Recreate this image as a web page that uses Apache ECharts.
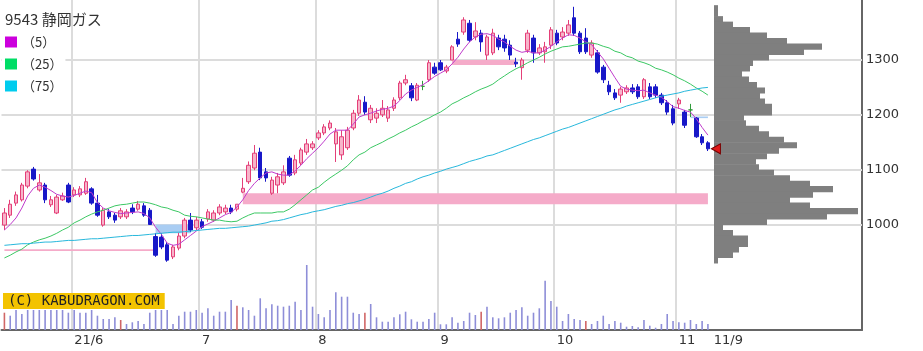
<!DOCTYPE html>
<html><head><meta charset="utf-8">
<script src="https://cdn.jsdelivr.net/npm/echarts@6/dist/echarts.min.js"></script>
<style>html,body{margin:0;padding:0;background:#fff}#c{width:923px;height:351px}</style>
</head><body><div id="c"></div><script>
// ---- trading days (2021) ----
const mayDays = [14,17,18,19,20,21,24,25,26,27,28,31];
const junDays = [1,2,3,4,7,8,9,10,11,14,15,16,17,18,21,22,23,24,25,28,29,30];
const julDays = [1,2,5,6,7,8,9,12,13,14,15,16,19,20,21,26,27,28,29,30];
const augDays = [2,3,4,5,6,10,11,12,13,16,17,18,19,20,23,24,25,26,27,30,31];
const sepDays = [1,2,3,6,7,8,9,10,13,14,15,16,17,21,22,24,27,28,29,30];
const octDays = [1,4,5,6,7,8,11,12,13,14,15,18,19,20,21,22,25,26,27,28,29];
const novDays = [1,2,4,5,8,9];
const tickText = ['21/6','7','8','9','10','11','11/9'];

const opens = [999,1017,1039,1045,1070,1101,1063,1072,1036,1021,
1045,1072,1054,1054,1057,1065,1039,999,1023,1017,
1014,1014,1030,1028,1034,1026,978,977,963,941,
957,979,1008,994,1005,1010,1008,1021,1023,1030,
1028,1059,1078,1103,1132,1096,1057,1072,1076,1121,
1094,1112,1132,1140,1158,1167,1176,1147,1127,1140,
1176,1203,1223,1191,1194,1200,1194,1212,1231,1258,
1253,1227,1252,1264,1287,1295,1280,1300,1338,1351,
1367,1342,1349,1309,1313,1340,1338,1327,1296,1286,
1318,1340,1313,1315,1327,1349,1342,1349,1377,1349,
1340,1309,1313,1287,1254,1240,1236,1242,1249,1251,
1233,1251,1251,1236,1222,1211,1220,1205,1209,1194,
1160,1149];
const closes = [1021,1037,1054,1072,1096,1083,1076,1045,1045,1050,
1052,1041,1063,1065,1078,1039,1017,1026,1014,1008,
1025,1023,1023,1037,1017,1000,944,959,935,959,
979,1008,990,1008,995,1023,1021,1032,1030,1023,
1037,1066,1108,1130,1085,1085,1081,1087,1096,1090,
1118,1136,1147,1147,1167,1178,1185,1169,1160,1172,
1203,1227,1205,1212,1203,1212,1209,1227,1258,1264,
1231,1254,1252,1295,1276,1282,1287,1324,1329,1373,
1336,1353,1333,1342,1349,1324,1322,1309,1293,1300,
1349,1313,1322,1324,1355,1331,1351,1364,1349,1315,
1315,1331,1278,1264,1242,1231,1247,1249,1242,1233,
1264,1233,1236,1222,1205,1185,1227,1181,1209,1160,
1149,1138];
const lows = [990,1012,1034,1042,1066,1080,1060,1039,1032,1019,
1043,1039,1050,1050,1054,1036,1014,996,1010,1003,
1010,1010,1019,1025,1014,1000,941,955,932,937,
953,975,986,990,992,1005,1005,1017,1019,1019,
1024,1057,1074,1099,1081,1078,1054,1057,1072,1087,
1090,1108,1127,1136,1154,1163,1172,1114,1118,1136,
1172,1198,1200,1185,1185,1196,1187,1207,1227,1254,
1225,1225,1245,1260,1273,1280,1276,1300,1324,1346,
1333,1336,1315,1300,1309,1318,1315,1300,1287,1264,
1313,1295,1309,1295,1320,1327,1336,1344,1344,1311,
1311,1304,1275,1258,1236,1227,1222,1238,1238,1229,
1229,1229,1231,1218,1200,1181,1211,1176,1196,1158,
1145,1134];
const highs = [1030,1045,1060,1076,1099,1105,1092,1076,1052,1054,
1058,1076,1068,1070,1085,1068,1054,1030,1028,1021,
1030,1028,1037,1043,1039,1030,984,984,968,963,
985,1012,1021,1014,1010,1028,1026,1037,1036,1036,
1037,1085,1115,1145,1140,1103,1087,1094,1108,1125,
1127,1140,1156,1152,1172,1183,1190,1176,1172,1178,
1209,1236,1234,1218,1212,1227,1216,1232,1262,1273,
1258,1258,1262,1300,1295,1300,1291,1327,1351,1378,
1373,1369,1355,1346,1357,1346,1346,1336,1304,1304,
1355,1346,1329,1333,1360,1355,1360,1373,1397,1353,
1358,1336,1318,1291,1262,1247,1251,1254,1256,1256,
1267,1258,1256,1240,1227,1218,1231,1209,1220,1196,
1165,1152];
const ma5 = [990,1000,1012,1030,1052,1066,1072,1068,1062,1055,
1052,1050,1053,1057,1061,1058,1040,1030,1025,1022,
1020,1021,1022,1023,1020,1012,995,982,966,962,
964,972,980,988,996,1001,1006,1012,1018,1022,
1032,1045,1062,1075,1085,1094,1096,1092,1090,1090,
1098,1108,1120,1130,1140,1152,1165,1172,1172,1172,
1183,1196,1200,1203,1207,1210,1212,1216,1226,1238,
1245,1250,1255,1262,1270,1276,1282,1293,1305,1320,
1333,1342,1347,1348,1345,1338,1333,1325,1318,1314,
1316,1313,1313,1318,1325,1333,1340,1346,1345,1340,
1333,1328,1315,1302,1285,1268,1252,1247,1245,1244,
1245,1240,1236,1232,1224,1215,1212,1208,1205,1193,
1177,1163];
const ma25 = [939,944,950,955,963,968,972,975,979,984,
990,995,1003,1008,1014,1019,1023,1026,1030,1034,
1036,1037,1039,1041,1041,1039,1036,1032,1030,1026,
1023,1017,1015,1014,1012,1010,1008,1008,1006,1005,
1006,1012,1017,1021,1021,1021,1021,1023,1023,1028,
1036,1045,1054,1063,1068,1077,1085,1092,1099,1107,
1118,1127,1132,1140,1145,1150,1156,1161,1167,1172,
1178,1183,1189,1194,1200,1205,1212,1220,1225,1231,
1236,1242,1247,1251,1256,1264,1271,1278,1284,1289,
1295,1300,1305,1311,1316,1320,1324,1325,1327,1329,
1331,1331,1329,1325,1322,1316,1313,1307,1304,1298,
1295,1291,1285,1282,1278,1273,1267,1262,1256,1249,
1243,1236];
const ma75 = [962,963,964,965,965,966,967,968,968,969,
970,971,971,972,973,974,974,975,976,977,
978,979,980,980,981,982,983,984,985,986,
986,987,988,989,990,991,992,993,993,994,
995,996,997,999,1001,1003,1006,1007,1009,1012,
1015,1018,1020,1023,1025,1027,1030,1033,1035,1038,
1040,1043,1046,1050,1054,1057,1061,1066,1070,1075,
1078,1083,1087,1090,1094,1097,1101,1104,1107,1111,
1115,1118,1121,1125,1127,1131,1135,1139,1143,1147,
1151,1155,1158,1162,1166,1170,1174,1177,1181,1185,
1189,1193,1197,1201,1205,1209,1212,1216,1219,1222,
1225,1228,1231,1234,1236,1238,1240,1243,1245,1247,
1249,1250];
const volumes = [173,143,200,160,200,200,200,200,200,200,
200,173,200,173,173,200,143,110,110,127,
100,60,77,90,60,173,200,200,200,60,
143,183,183,200,173,217,143,183,183,300,
243,227,200,143,317,217,257,243,233,243,
283,200,650,233,160,127,200,377,333,333,
173,160,173,260,127,83,83,127,157,183,
107,83,83,110,173,57,57,127,73,90,
173,150,183,233,127,117,127,173,200,227,
143,173,217,493,290,233,90,160,110,100,
90,60,90,143,60,90,73,33,40,27,
100,43,23,60,160,90,77,73,100,60,
90,60];
const redVolumeIdx = [0,20,40,62,82,100];
// volume-by-price profile
const profilePrices = [1395,1385,1375,1365,1355,1345,1335,1325,1315,1305,1295,1285,1275,1265,1255,1245,1235,1225,1215,1205,1195,1185,1175,1165,1155,1145,1135,1125,1115,1105,1095,1085,1075,1065,1055,1045,1035,1025,1015,1005,995,985,975,965,955,945,935];
const profileVols = [4,4,9,19,36,53,73,108,90,55,39,36,28,35,43,51,46,51,58,58,30,32,45,55,70,83,65,53,42,45,60,76,96,119,99,76,96,144,113,53,9,19,34,34,25,19,4];
const PROFILE_STEP = 10;
// gap zones: [fromIdx, toIdx, low, high, kind]
const gapFrom = [41, 26, 77, 0, 118];
const gapTo   = [121, 32, 88, 26, 121];
const gapLow  = [1037, 984, 1291, 951.5, 1194];
const gapHigh = [1057, 1000, 1300, 955, 1197];
const gapUp   = [true, false, true, true, false];
const gridPrices = [1000,1100,1200,1300];

// ---- build ----
const dates = [];
[[5,mayDays],[6,junDays],[7,julDays],[8,augDays],[9,sepDays],[10,octDays],[11,novDays]].forEach(([m,ds])=>ds.forEach(d=>dates.push(m+'/'+d)));
const PAD = 26;
const categories = dates.concat(Array.from({length:PAD},(_,k)=>'pad'+k));
const monthStarts = [];
for (let i=1;i<dates.length;i++){ if (dates[i].split('/')[0]!==dates[i-1].split('/')[0]) monthStarts.push(i); }
const tickIdx = monthStarts.concat([dates.length]);
const labelMap = {}; tickIdx.forEach((ix,k)=>labelMap[ix]=tickText[k]);
const monthSet = new Set(monthStarts);
const redSet = new Set(redVolumeIdx);

const UP_FILL='#f7b4ca', UP_BORDER='#e43f78', DOWN='#1818c8', DOJI='#2f9a3a';
const candleData = opens.map((o,i)=>{
  const v=[o,closes[i],lows[i],highs[i]];
  if (o===closes[i]) return {value:v,itemStyle:{color:DOJI,color0:DOJI,borderColor:DOJI,borderColor0:DOJI}};
  return v;
});
const areaData = gapFrom.map((f,k)=>[
  {xAxis:f, yAxis:gapLow[k], itemStyle:{color: gapUp[k]?'#f5abc9':'#a9cdf3'}},
  {xAxis:gapTo[k], yAxis:gapHigh[k]}
]);

const T = 5.167, B = 16.83;
const chart = echarts.init(document.getElementById('c'), null, {renderer:'canvas'});
chart.setOption({
  animation:false,
  backgroundColor:'#fff',
  grid:[
    {left:1.5,right:61,top:0,bottom:21,outerBoundsMode:'none'},
    {left:1.5,right:61,top:T,bottom:B,outerBoundsMode:'none'},
    {left:714,right:61,top:T,bottom:B,outerBoundsMode:'none'}
  ],
  xAxis:[
    {type:'category',gridIndex:0,data:categories,boundaryGap:true,
     axisLine:{show:true,lineStyle:{color:'#666',width:2}},
     axisTick:{show:false},
     axisLabel:{interval:(i)=>labelMap[i]!==undefined,formatter:(v,i)=>labelMap[i]||'',align:'left',margin:4,fontSize:13,color:'#333',fontFamily:'DejaVu Sans'},
     splitLine:{show:true,interval:(i)=>monthSet.has(i),lineStyle:{color:'#dcdcdc',width:2}}},
    {type:'category',gridIndex:1,data:categories,boundaryGap:true,show:false},
    {type:'value',gridIndex:2,min:0,max:148,show:false}
  ],
  yAxis:[
    {type:'value',gridIndex:0,position:'right',min:0,max:3300,
     axisLine:{show:true,lineStyle:{color:'#666',width:2}},axisTick:{show:false},axisLabel:{show:false},splitLine:{show:false}},
    {type:'value',gridIndex:1,position:'right',min:800,max:1400,interval:100,
     axisLine:{show:false},axisTick:{show:false},splitLine:{show:false},
     axisLabel:{formatter:(v)=>(v>=1000&&v<=1300)?String(v):'',margin:4,fontSize:13,color:'#333',fontFamily:'DejaVu Sans'}},
    {type:'value',gridIndex:2,min:800,max:1400,show:false}
  ],
  legend:{orient:'vertical',left:2,top:32.5,padding:[3,3,3,3],backgroundColor:'#fff',
    itemWidth:12,itemHeight:11,itemGap:9,icon:'rect',selectedMode:false,
    textStyle:{fontSize:13,color:'#333',fontFamily:'Noto Sans CJK JP'},
    data:[{name:'（5）',itemStyle:{color:'#cc00dd'}},{name:'（25）',itemStyle:{color:'#00dd66'}},{name:'（75）',itemStyle:{color:'#00ccee'}}]},
  graphic:[
    {type:'text',left:5,top:12,z:20,style:{text:'9543 静岡ガス',font:'15px "Noto Sans CJK JP"',fill:'#333'}},
    {type:'text',left:3,top:293,z:20,style:{text:'(C) KABUDRAGON.COM',font:'14px "DejaVu Sans Mono"',fill:'#222',backgroundColor:'#f3c300',padding:[1,5,1,5]}}
  ],
  series:[
    {type:'line',name:'frame',xAxisIndex:1,yAxisIndex:1,data:[],silent:true,
     markLine:{silent:true,z:0.5,symbol:['none','none'],label:{show:false},animation:false,
       lineStyle:{color:'#dcdcdc',width:2,type:'solid'},data:gridPrices.map(v=>({yAxis:v}))},
     markArea:{silent:true,z:1,label:{show:false},data:areaData}},
    {type:'bar',name:'vol',xAxisIndex:0,yAxisIndex:0,barWidth:1.6,silent:true,z:2,
     data:volumes.map((v,i)=>({value:v,itemStyle:{color:redSet.has(i)?'#d06666':'#8e8ed8'}}))},
    {type:'candlestick',name:'price',xAxisIndex:1,yAxisIndex:1,barWidth:4,z:3,silent:true,
     itemStyle:{color:UP_FILL,color0:DOWN,borderColor:UP_BORDER,borderColor0:DOWN,borderWidth:1},
     data:candleData,
     markPoint:{silent:true,z:10,label:{show:false},
       data:[{coord:[dates.length-1,closes[closes.length-1]],symbol:'triangle',symbolSize:[10,9],symbolRotate:90,symbolOffset:[8,0],
         itemStyle:{color:'#e01818',borderColor:'#700',borderWidth:1}}]}},
    {type:'line',name:'（5）',xAxisIndex:1,yAxisIndex:1,data:ma5,symbol:'none',showSymbol:false,z:4,silent:true,
     lineStyle:{color:'#c03ccc',width:1},itemStyle:{color:'#cc00dd'}},
    {type:'line',name:'（25）',xAxisIndex:1,yAxisIndex:1,data:ma25,symbol:'none',showSymbol:false,z:4,silent:true,
     lineStyle:{color:'#3cc864',width:1},itemStyle:{color:'#00dd66'}},
    {type:'line',name:'（75）',xAxisIndex:1,yAxisIndex:1,data:ma75,symbol:'none',showSymbol:false,z:4,silent:true,
     lineStyle:{color:'#28b8dc',width:1},itemStyle:{color:'#00ccee'}},
    {type:'custom',name:'profile',xAxisIndex:2,yAxisIndex:2,z:2,silent:true,
     data:profilePrices.map((p,i)=>[profileVols[i],p]),
     encode:{x:0,y:1},
     renderItem:(params,api)=>{
       const v=api.value(0), p=api.value(1);
       const a=api.coord([0,p+PROFILE_STEP/2]);
       const b=api.coord([v,p-PROFILE_STEP/2]);
       return {type:'rect',shape:{x:a[0],y:a[1],width:b[0]-a[0],height:b[1]-a[1]+0.6},style:{fill:'#7f7f7f'}};
     }}
  ]
});
</script></body></html>
